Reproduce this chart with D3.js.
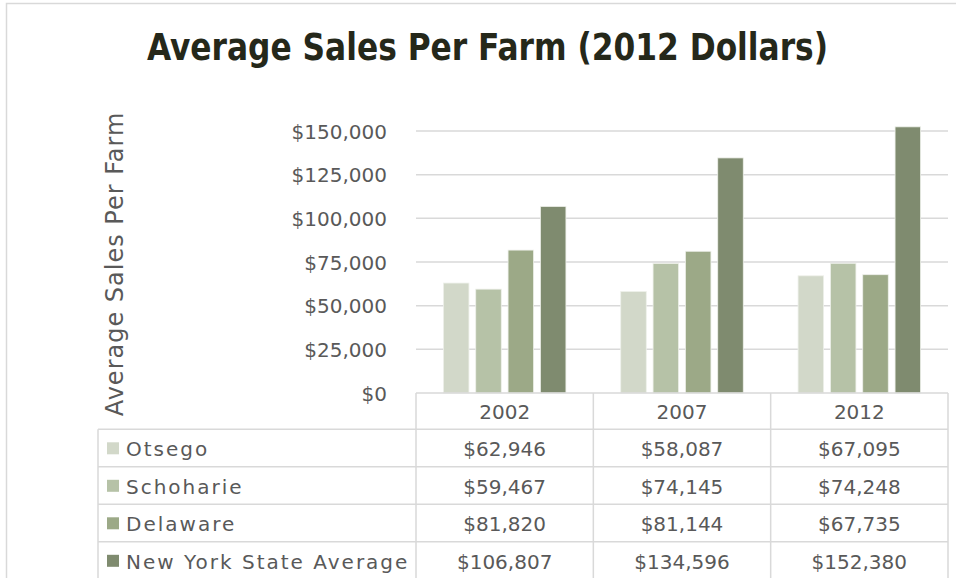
<!DOCTYPE html>
<html>
<head>
<meta charset="utf-8">
<script src="https://cdn.jsdelivr.net/npm/d3@7"></script>
<style>
  html, body { margin: 0; padding: 0; background: #ffffff; }
  svg { display: block; }
  text { font-family: "DejaVu Sans", sans-serif; }
</style>
</head>
<body>
<svg id="chart" width="956" height="578"></svg>
<script>
// Average sales per farm, in 2012 dollars
const years = ["2002", "2007", "2012"];
const seriesNames = ["Otsego", "Schoharie", "Delaware", "New York State Average"];
const otsego = [62946, 58087, 67095];
const schoharie = [59467, 74145, 74248];
const delaware = [81820, 81144, 67735];
const nysAverage = [106807, 134596, 152380];
const yTicks = [0, 25000, 50000, 75000, 100000, 125000, 150000];
const seriesColors = ["#d2d8c9", "#b6c2a7", "#9ca987", "#7f8b6f"];

const seriesValues = [otsego, schoharie, delaware, nysAverage];

const svg = d3.select("#chart");
const W = 956, H = 578;
const plot = { left: 416, right: 948, top: 131, bottom: 393 };
const gridColor = "#d9d9d9";
const textColor = "#595959";

// chart frame
svg.append("rect")
  .attr("x", 6.5).attr("y", 3.5)
  .attr("width", W + 10).attr("height", H + 10)
  .attr("fill", "none").attr("stroke", gridColor).attr("stroke-width", 1.5);

// title
svg.append("text")
  .attr("x", 147).attr("y", 60)
  .attr("textLength", 681).attr("lengthAdjust", "spacingAndGlyphs")
  .style("font-family", "'DejaVu Sans Condensed', 'DejaVu Sans', sans-serif")
  .style("font-weight", "bold").style("font-size", "37px")
  .attr("fill", "#25281a")
  .text("Average Sales Per Farm (2012 Dollars)");

const x0 = d3.scaleBand().domain(years).range([plot.left, plot.right]).padding(0);
const groupPad = 27.4;
const x1 = d3.scaleBand().domain(seriesNames)
  .range([groupPad, x0.bandwidth() - groupPad])
  .paddingInner(0.21).paddingOuter(0);
const y = d3.scaleLinear().domain([0, 150000]).range([plot.bottom, plot.top]);

// horizontal gridlines
svg.append("g").selectAll("line")
  .data(yTicks.filter(d => d > 0))
  .join("line")
  .attr("x1", plot.left).attr("x2", plot.right)
  .attr("y1", d => y(d)).attr("y2", d => y(d))
  .attr("stroke", gridColor).attr("stroke-width", 1.5);

// y axis tick labels
const fmt = d => "$" + d3.format(",")(d);
const yAxis = d3.axisLeft(y).tickValues(yTicks).tickFormat(fmt).tickSize(0).tickPadding(0);
const yg = svg.append("g").attr("transform", `translate(387,0)`).call(yAxis);
yg.select(".domain").remove();
yg.selectAll("text")
  .attr("fill", textColor)
  .style("font-family", "'DejaVu Sans', sans-serif")
  .style("font-size", "20px")
  .attr("dy", "0.36em");

// y axis title
svg.append("text")
  .attr("transform", "translate(123,264) rotate(-90)")
  .attr("text-anchor", "middle")
  .attr("fill", textColor)
  .style("font-size", "24px")
  .style("letter-spacing", "1px")
  .text("Average Sales Per Farm");

// bars
const groups = svg.append("g").selectAll("g")
  .data(years)
  .join("g")
  .attr("transform", d => `translate(${x0(d)},0)`);
groups.selectAll("rect")
  .data((d, i) => seriesNames.map((s, k) => ({ s, k, v: seriesValues[k][i] })))
  .join("rect")
  .attr("x", d => x1(d.s))
  .attr("width", x1.bandwidth())
  .attr("y", d => y(d.v))
  .attr("height", d => y(0) - y(d.v))
  .attr("fill", d => seriesColors[d.k])
  .attr("stroke", "#eef0ea").attr("stroke-width", 0.8);

// data table
const headerTop = plot.bottom;
const headerH = 36.3;
const rowH = 37.5;
const tableLeft = 98;
const rowsTop = headerTop + headerH;
const table = svg.append("g");

// header row borders
table.append("line")
  .attr("x1", plot.left).attr("x2", plot.right)
  .attr("y1", headerTop).attr("y2", headerTop)
  .attr("stroke", gridColor).attr("stroke-width", 1.5);
// row borders
table.selectAll("line.row")
  .data(d3.range(seriesNames.length + 1))
  .join("line").attr("class", "row")
  .attr("x1", tableLeft).attr("x2", plot.right)
  .attr("y1", i => rowsTop + i * rowH).attr("y2", i => rowsTop + i * rowH)
  .attr("stroke", gridColor).attr("stroke-width", 1.5);
// column borders
table.selectAll("line.col")
  .data(years.map(d => x0(d)).concat([plot.right]))
  .join("line").attr("class", "col")
  .attr("x1", d => d).attr("x2", d => d)
  .attr("y1", headerTop).attr("y2", H + 10)
  .attr("stroke", gridColor).attr("stroke-width", 1.5);
table.append("line")
  .attr("x1", tableLeft).attr("x2", tableLeft)
  .attr("y1", rowsTop).attr("y2", H + 10)
  .attr("stroke", gridColor).attr("stroke-width", 1.5);

// header labels
table.selectAll("text.year")
  .data(years)
  .join("text").attr("class", "year")
  .attr("x", d => x0(d) + x0.bandwidth() / 2)
  .attr("y", headerTop + 26)
  .attr("text-anchor", "middle")
  .attr("fill", textColor)
  .style("font-size", "20px")
  .text(d => d);

// legend keys and series names
const rows = table.selectAll("g.series")
  .data(seriesNames)
  .join("g").attr("class", "series")
  .attr("transform", (d, i) => `translate(0,${rowsTop + i * rowH})`);
rows.append("rect")
  .attr("x", 107).attr("y", 13).attr("width", 12).attr("height", 12)
  .attr("fill", (d, i) => seriesColors[i]);
rows.append("text")
  .attr("x", 126).attr("y", 27)
  .attr("fill", textColor)
  .style("font-size", "20px")
  .style("letter-spacing", "2px")
  .text(d => d);
rows.selectAll("text.val")
  .data((d, i) => years.map((yr, j) => ({ yr, v: seriesValues[i][j] })))
  .join("text").attr("class", "val")
  .attr("x", d => x0(d.yr) + x0.bandwidth() / 2)
  .attr("y", 27)
  .attr("text-anchor", "middle")
  .attr("fill", textColor)
  .style("font-size", "20px")
  .text(d => fmt(d.v));
</script>
</body>
</html>
